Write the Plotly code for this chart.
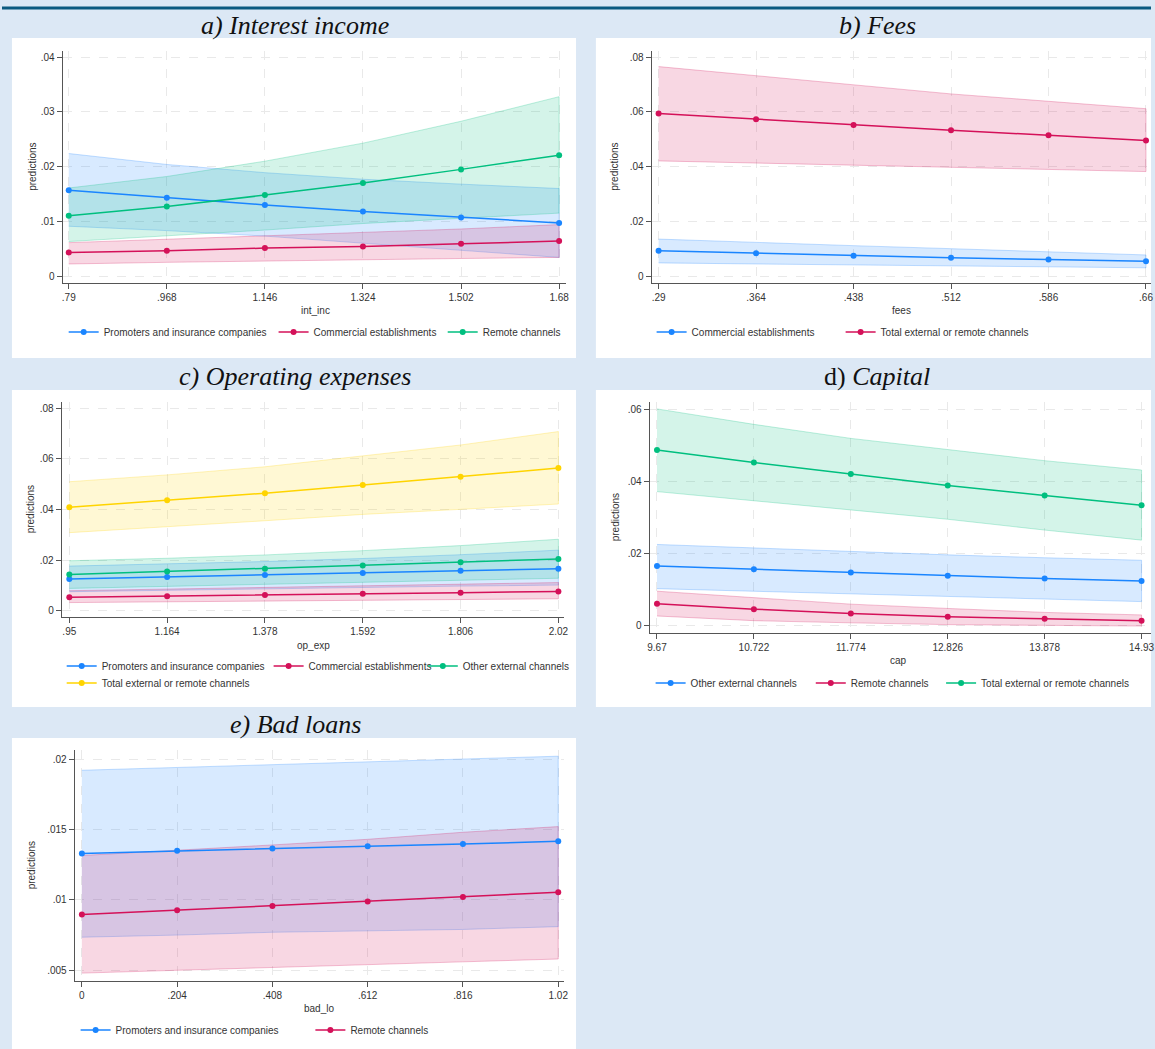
import plotly.graph_objects as go

W, H = 1155, 1049

BLUE = "#1a85ff"
RED = "#d41159"
GREEN = "#00bf7f"
YELLOW = "#ffd400"

def rgba(hx, a):
    hx = hx.lstrip("#")
    r, g, b = int(hx[0:2], 16), int(hx[2:4], 16), int(hx[4:6], 16)
    return f"rgba({r},{g},{b},{a})"

# ---------------- data ----------------
# a) Interest income
a_x = [0.79, 0.968, 1.146, 1.324, 1.502, 1.68]
a_names = ["Promoters and insurance companies", "Commercial establishments", "Remote channels"]
a_pred = [
    [0.0157, 0.0143, 0.0130, 0.0118, 0.0107, 0.0097],
    [0.0043, 0.0046, 0.0051, 0.0054, 0.0059, 0.0064],
    [0.0110, 0.0127, 0.0148, 0.0170, 0.0195, 0.0221],
]
a_hi = [
    [0.0224, 0.0204, 0.0189, 0.0177, 0.0168, 0.0160],
    [0.0061, 0.0067, 0.0073, 0.0079, 0.0086, 0.0094],
    [0.0161, 0.0182, 0.0210, 0.0243, 0.0283, 0.0328],
]
a_lo = [
    [0.0091, 0.0083, 0.0073, 0.0060, 0.0047, 0.0034],
    [0.0022, 0.0025, 0.0028, 0.0030, 0.0032, 0.0034],
    [0.0063, 0.0073, 0.0084, 0.0096, 0.0106, 0.0115],
]
a_xticks = [".79", ".968", "1.146", "1.324", "1.502", "1.68"]
a_yvals = [0, 0.01, 0.02, 0.03, 0.04]
a_yticks = ["0", ".01", ".02", ".03", ".04"]

# b) Fees
b_x = [0.29, 0.364, 0.438, 0.512, 0.586, 0.66]
b_names = ["Commercial establishments", "Total external or remote channels"]
b_pred = [
    [0.0092, 0.0083, 0.0074, 0.0067, 0.0060, 0.0054],
    [0.0594, 0.0573, 0.0552, 0.0533, 0.0515, 0.0496],
]
b_hi = [
    [0.0135, 0.0122, 0.0111, 0.0100, 0.0088, 0.0077],
    [0.0766, 0.0732, 0.0699, 0.0666, 0.0639, 0.0612],
]
b_lo = [
    [0.0048, 0.0044, 0.0040, 0.0036, 0.0033, 0.0030],
    [0.0421, 0.0413, 0.0406, 0.0398, 0.0390, 0.0382],
]
b_xticks = [".29", ".364", ".438", ".512", ".586", ".66"]
b_yvals = [0, 0.02, 0.04, 0.06, 0.08]
b_yticks = ["0", ".02", ".04", ".06", ".08"]

# c) Operating expenses
c_x = [0.95, 1.164, 1.378, 1.592, 1.806, 2.02]
c_names = ["Promoters and insurance companies", "Commercial establishments",
           "Other external channels", "Total external or remote channels"]
c_pred = [
    [0.0125, 0.0133, 0.0141, 0.0149, 0.0158, 0.0166],
    [0.0053, 0.0057, 0.0062, 0.0067, 0.0071, 0.0076],
    [0.0143, 0.0155, 0.0166, 0.0178, 0.0191, 0.0204],
    [0.0408, 0.0436, 0.0464, 0.0496, 0.0529, 0.0563],
]
c_hi = [
    [0.0176, 0.0184, 0.0194, 0.0206, 0.0221, 0.0239],
    [0.0079, 0.0085, 0.0091, 0.0097, 0.0104, 0.0111],
    [0.0197, 0.0207, 0.0220, 0.0237, 0.0257, 0.0282],
    [0.0509, 0.0536, 0.0568, 0.0611, 0.0654, 0.0707],
]
c_lo = [
    [0.0075, 0.0081, 0.0087, 0.0092, 0.0097, 0.0101],
    [0.0032, 0.0035, 0.0038, 0.0041, 0.0044, 0.0047],
    [0.0088, 0.0098, 0.0106, 0.0113, 0.0120, 0.0128],
    [0.0308, 0.0332, 0.0355, 0.0380, 0.0400, 0.0421],
]
c_xticks = [".95", "1.164", "1.378", "1.592", "1.806", "2.02"]
c_yvals = [0, 0.02, 0.04, 0.06, 0.08]
c_yticks = ["0", ".02", ".04", ".06", ".08"]

# d) Capital
d_x = [9.67, 10.722, 11.774, 12.826, 13.878, 14.93]
d_names = ["Other external channels", "Remote channels", "Total external or remote channels"]
d_pred = [
    [0.0166, 0.0157, 0.0148, 0.0139, 0.0131, 0.0124],
    [0.0061, 0.0046, 0.0034, 0.0025, 0.0019, 0.0014],
    [0.0489, 0.0454, 0.0422, 0.0390, 0.0362, 0.0335],
]
d_hi = [
    [0.0226, 0.0216, 0.0206, 0.0197, 0.0189, 0.0182],
    [0.0096, 0.0078, 0.0060, 0.0048, 0.0037, 0.0030],
    [0.0603, 0.0560, 0.0521, 0.0489, 0.0459, 0.0433],
]
d_lo = [
    [0.0103, 0.0097, 0.0090, 0.0082, 0.0074, 0.0067],
    [0.0027, 0.0014, 0.0008, 0.0003, 0.0001, -0.0001],
    [0.0373, 0.0348, 0.0322, 0.0296, 0.0266, 0.0238],
]
d_xticks = ["9.67", "10.722", "11.774", "12.826", "13.878", "14.93"]
d_yvals = [0, 0.02, 0.04, 0.06]
d_yticks = ["0", ".02", ".04", ".06"]

# e) Bad loans
e_x = [0.0, 0.204, 0.408, 0.612, 0.816, 1.02]
e_names = ["Promoters and insurance companies", "Remote channels"]
e_pred = [
    [0.01329, 0.01348, 0.01364, 0.01381, 0.01397, 0.01416],
    [0.00896, 0.00927, 0.00957, 0.00988, 0.01021, 0.01054],
]
e_hi = [
    [0.0192, 0.0194, 0.0196, 0.0198, 0.0200, 0.0202],
    [0.01315, 0.0135, 0.0139, 0.0143, 0.0148, 0.0152],
]
e_lo = [
    [0.00735, 0.0075, 0.0077, 0.0078, 0.0079, 0.0081],
    [0.0048, 0.0050, 0.0052, 0.0054, 0.0056, 0.0058],
]
e_xticks = ["0", ".204", ".408", ".612", ".816", "1.02"]
e_yvals = [0.005, 0.01, 0.015, 0.02]
e_yticks = [".005", ".01", ".015", ".02"]

# ---------------- layout geometry (pixels) ----------------
panels = [
    dict(title="<i>a) Interest income</i>", title_xy=(295, 25),
         box=(10, 38, 577, 358), plot=(61, 51, 567, 283),
         xr=[0.779, 1.6926], yr=[-0.00128, 0.04115],
         x=a_x, names=a_names, pred=a_pred, hi=a_hi, lo=a_lo,
         colors=[BLUE, RED, GREEN], xt=a_xticks, yv=a_yvals, yt=a_yticks,
         xlabel="int_inc", xlab_xy=(315, 310), ylab_x=30,
         leg=[(70, 332), (281, 332), (451, 332)]),
    dict(title="<i>b) Fees</i>", title_xy=(880, 25),
         box=(597, 38, 1155, 358), plot=(653, 51, 1155, 283),
         xr=[0.2847, 0.6638], yr=[-0.00256, 0.0823],
         x=b_x, names=b_names, pred=b_pred, hi=b_hi, lo=b_lo,
         colors=[BLUE, RED], xt=b_xticks, yv=b_yvals, yt=b_yticks,
         xlabel="fees", xlab_xy=(904, 310), ylab_x=615,
         leg=[(661, 332), (851, 332)]),
    dict(title="<i>c) Operating expenses</i>", title_xy=(295, 377),
         box=(10, 390, 577, 707), plot=(60, 402, 565, 617),
         xr=[0.9333, 2.0324], yr=[-0.00249, 0.08237],
         x=c_x, names=c_names, pred=c_pred, hi=c_hi, lo=c_lo,
         colors=[BLUE, RED, GREEN, YELLOW], xt=c_xticks, yv=c_yvals, yt=c_yticks,
         xlabel="op_exp", xlab_xy=(313, 645), ylab_x=29,
         leg=[(68, 666), (276, 666), (431, 666), (68, 683)]),
    dict(title="d) <i>Capital</i>", title_xy=(880, 377),
         box=(597, 390, 1155, 707), plot=(651, 402, 1155, 633),
         xr=[9.59, 15.0325], yr=[-0.00203, 0.06222],
         x=d_x, names=d_names, pred=d_pred, hi=d_hi, lo=d_lo,
         colors=[BLUE, RED, GREEN], xt=d_xticks, yv=d_yvals, yt=d_yticks,
         xlabel="cap", xlab_xy=(901, 660), ylab_x=617,
         leg=[(660, 683), (821, 683), (952, 683)]),
    dict(title="<i>e) Bad loans</i>", title_xy=(295, 724),
         box=(10, 738, 577, 1049), plot=(73, 750, 565, 981),
         xr=[-0.0155, 1.0325], yr=[0.00424, 0.02064],
         x=e_x, names=e_names, pred=e_pred, hi=e_hi, lo=e_lo,
         colors=[BLUE, RED], xt=e_xticks, yv=e_yvals, yt=e_yticks,
         xlabel="bad_lo", xlab_xy=(319, 1008), ylab_x=30,
         leg=[(82, 1030), (318, 1030)]),
]

def px(x):
    return x / W

def py(y):
    return 1 - y / H

fig = go.Figure()
FONT = "Liberation Sans, Arial, sans-serif"
layout = dict(
    width=W, height=H, margin=dict(l=0, r=0, t=0, b=0),
    paper_bgcolor="#dce8f5", plot_bgcolor="white", showlegend=True,
    font=dict(family=FONT, size=10, color="#333333"),
)
shapes = [dict(type="line", xref="paper", yref="paper", x0=0, x1=1,
               y0=py(8), y1=py(8), line=dict(color="#0b5a80", width=3))]
annotations = []
legend_count = 0

axis_common = dict(
    showgrid=True, gridcolor="#e9e9e9", griddash="dash", gridwidth=1,
    zeroline=False, showline=True, linecolor="#555555", linewidth=1,
    ticks="outside", ticklen=5, tickcolor="#555555", tickwidth=1,
    tickfont=dict(family=FONT, size=10, color="#333333"),
    fixedrange=True, ticklabeloverflow="allow",
)

for i, p in enumerate(panels):
    n = i + 1
    xa = "x" if n == 1 else f"x{n}"
    ya = "y" if n == 1 else f"y{n}"
    x0, y0, x1, y1 = p["plot"]
    layout["xaxis" if n == 1 else f"xaxis{n}"] = dict(
        axis_common, domain=[px(x0), min(px(x1), 1.0)], range=p["xr"],
        anchor=ya, tickmode="array", tickvals=p["x"], ticktext=p["xt"])
    layout["yaxis" if n == 1 else f"yaxis{n}"] = dict(
        axis_common, domain=[py(y1), py(y0)], range=p["yr"],
        anchor=xa, tickmode="array", tickvals=p["yv"], ticktext=p["yt"])

    bx0, by0, bx1, by1 = p["box"]
    shapes.append(dict(type="rect", xref="paper", yref="paper", layer="below",
                       x0=px(bx0), x1=px(bx1), y0=py(by1), y1=py(by0),
                       fillcolor="white", line=dict(width=0)))

    tx, ty = p["title_xy"]
    annotations.append(dict(text=p["title"], x=px(tx), y=py(ty), xref="paper", yref="paper",
                            showarrow=False, xanchor="center", yanchor="middle",
                            font=dict(family="Liberation Serif, Times New Roman, serif",
                                      size=26, color="#111111")))
    lx, ly = p["xlab_xy"]
    annotations.append(dict(text=p["xlabel"], x=px(lx), y=py(ly), xref="paper", yref="paper",
                            showarrow=False, xanchor="center", yanchor="middle",
                            font=dict(size=10, color="#333333")))
    annotations.append(dict(text="predictions", x=px(p["ylab_x"]), y=py((y0 + y1) / 2),
                            xref="paper", yref="paper", textangle=-90,
                            showarrow=False, xanchor="center", yanchor="middle",
                            font=dict(size=10, color="#333333")))

    # CI bands first
    for k, name in enumerate(p["names"]):
        col = p["colors"][k]
        fig.add_trace(go.Scatter(
            x=list(p["x"]) + list(p["x"])[::-1],
            y=list(p["hi"][k]) + list(p["lo"][k])[::-1],
            fill="toself", fillcolor=rgba(col, 0.17),
            line=dict(color=rgba(col, 0.25), width=1),
            mode="lines", hoverinfo="skip", showlegend=False,
            xaxis=xa, yaxis=ya))

    # prediction lines, each with its own legend entry placed like the reference
    for k, name in enumerate(p["names"]):
        col = p["colors"][k]
        legend_count += 1
        lname = "legend" if legend_count == 1 else f"legend{legend_count}"
        lpx, lpy = p["leg"][k]
        layout[lname] = dict(
            x=px(lpx - 8), y=py(lpy), xanchor="left", yanchor="middle",
            orientation="h", bgcolor="rgba(0,0,0,0)", borderwidth=0,
            font=dict(family=FONT, size=10, color="#333333"),
            itemwidth=30,
        )
        fig.add_trace(go.Scatter(
            x=p["x"], y=p["pred"][k], name=name, mode="lines+markers",
            line=dict(color=col, width=1.5), marker=dict(color=col, size=6),
            legend=lname, xaxis=xa, yaxis=ya))

layout["shapes"] = shapes
layout["annotations"] = annotations
fig.update_layout(**layout)
fig.write_html(
    "out.html",
    config={"displayModeBar": False},
    post_script="document.body.style.margin='0px';document.body.style.overflow='hidden';",
)
